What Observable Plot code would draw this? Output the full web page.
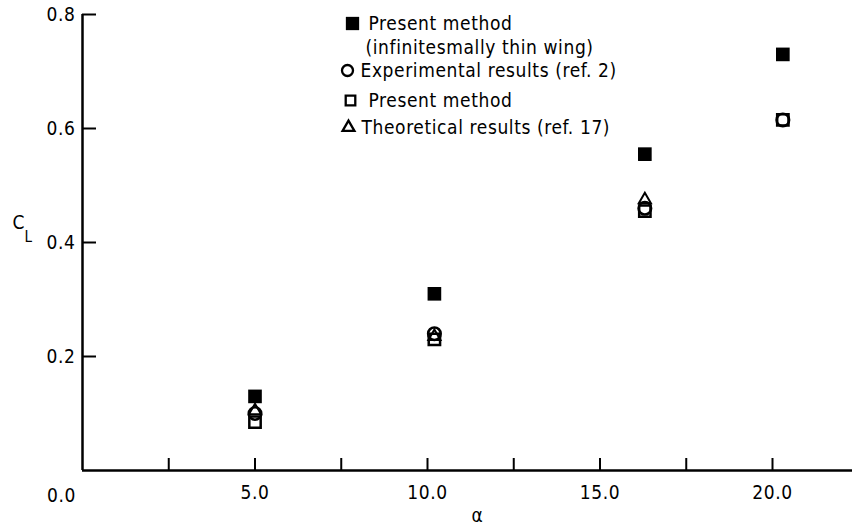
<!DOCTYPE html>
<html><head><meta charset="utf-8">
<script src="https://cdn.jsdelivr.net/npm/d3@7"></script>
<script src="https://cdn.jsdelivr.net/npm/@observablehq/plot@0.6"></script>
<style>
body{margin:0;background:#fff;}
</style></head><body><div id="chart"></div>
<script>
// Data
const alpha = [5.0, 10.2, 16.3, 20.3];
const clThinWing = [0.13, 0.31, 0.555, 0.73];
const clExperimental = [0.10, 0.24, 0.46, 0.615];
const clPresent = [0.085, 0.23, 0.455, 0.615];
const alphaTheory = [5.0, 10.2, 16.3];
const clTheory = [0.105, 0.235, 0.475];
const xTicks = [2.5, 5, 7.5, 10, 12.5, 15, 17.5, 20];
const xTickLabels = [5, 10, 15, 20];
const yTicks = [0.2, 0.4, 0.6, 0.8];
const legendLabels = ["Present method", "(infinitesmally thin wing)", "Experimental results (ref. 2)", "Present method", "Theoretical results (ref. 17)"];
const legendSymbols = ["square", null, "circle", "square", "triangle"];
const legendFilled = [true, false, false, false, false];

const W = 852, H = 527, mL = 82, mR = 0, mT = 14, mB = 57;
const frameW = W - mL - mR, frameH = H - mT - mB;
const FONT = "'DejaVu Sans Condensed','Liberation Sans Narrow','Arial Narrow','Liberation Sans',sans-serif";

const pts = (xs, ys) => xs.map((x, i) => ({x, y: ys[i]}));

// legend layout (pixel offsets from frame top-left)
const rowDy = [9, 33, 56, 86, 113];
const symDx = [270, null, 265, 268, 266];
const textDx = [286, 283, 278, 286, 279];
const symR = {square: 5.4, circle: 5.5, triangle: 4.4};

const legendMarks = [];
legendLabels.forEach((lab, i) => {
  const s = legendSymbols[i];
  if (s) {
    const filled = legendFilled[i];
    legendMarks.push(Plot.dot([0], {frameAnchor: "top-left", dx: symDx[i], dy: rowDy[i], symbol: s,
      r: filled ? 7.5 : symR[s],
      fill: filled ? "black" : "none", stroke: "black", strokeWidth: filled ? 0 : 2.3}));
  }
  legendMarks.push(Plot.text([lab], {frameAnchor: "top-left", dx: textDx[i], dy: rowDy[i], text: d => d, textAnchor: "start", lineAnchor: "middle"}));
});

const chart = Plot.plot({
  width: W, height: H,
  marginLeft: mL, marginRight: mR, marginTop: mT, marginBottom: mB,
  style: {fontFamily: FONT, fontSize: "19px", letterSpacing: "0.6px", color: "black", background: "white"},
  x: {domain: [0, frameW / 34.5], axis: null},
  y: {domain: [0, 0.8], axis: null},
  marks: [
    Plot.axisX(xTickLabels, {tickSize: 0, tickPadding: 15, tickFormat: d => d.toFixed(1), label: null}),
    Plot.axisY(yTicks, {tickSize: 0, tickPadding: 7, tickFormat: d => d.toFixed(1), label: null}),
    Plot.ruleY([0], {strokeWidth: 2.5}),
    Plot.ruleX([0], {strokeWidth: 2.5}),
    Plot.tickX(xTicks, {x: d => d, insetTop: frameH - 12, strokeWidth: 2}),
    Plot.tickY(yTicks, {y: d => d, insetRight: frameW - 14, strokeWidth: 2}),
    Plot.text(["0.0"], {x: () => 0, y: () => 0, text: d => d, dx: -21, dy: 25}),
    Plot.text(["α"], {frameAnchor: "bottom", text: d => d, dx: 10, dy: 51}),
    Plot.text(["C"], {frameAnchor: "left", text: d => d, dx: -70, dy: -20}),
    Plot.text(["L"], {frameAnchor: "left", text: d => d, dx: -58, dy: -5, fontSize: 15}),
    Plot.dot(pts(alpha, clThinWing), {x: "x", y: "y", symbol: "square", r: 7.7, fill: "black"}),
    Plot.dot(pts(alpha, clExperimental), {x: "x", y: "y", symbol: "circle", r: 6.3, fill: "none", stroke: "black", strokeWidth: 2.5}),
    Plot.dot(pts(alpha, clPresent), {x: "x", y: "y", symbol: "square", r: 6.4, fill: "none", stroke: "black", strokeWidth: 2.5}),
    Plot.dot(pts(alphaTheory, clTheory), {x: "x", y: "y", symbol: "triangle", r: 4.5, fill: "none", stroke: "black", strokeWidth: 2}),
    ...legendMarks
  ]
});
document.getElementById("chart").appendChild(chart);
</script></body></html>
